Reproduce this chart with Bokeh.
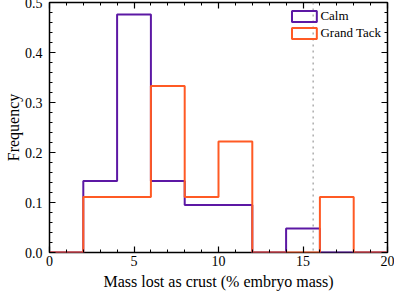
import numpy as np
from bokeh.plotting import figure
from bokeh.models import (LinearAxis, Range1d, Span, Legend, LegendItem,
                          FixedTicker, ColumnDataSource, CustomJSTickFormatter)
from bokeh.embed import file_html
from bokeh.resources import INLINE

# ---- data ----
bin_edges = [0, 2, 4, 6, 8, 10, 12, 14, 16, 18, 20]
calm_freq = [0.0, 0.143, 0.476, 0.143, 0.095, 0.095, 0.0, 0.048, 0.0, 0.0]
grand_tack_freq = [0.0, 0.111, 0.111, 0.333, 0.111, 0.222, 0.0, 0.0, 0.111, 0.0]
series_names = ["Calm", "Grand Tack"]
threshold_x = 15.6
x_ticks = [0, 5, 10, 15, 20]
y_ticks = [0.0, 0.1, 0.2, 0.3, 0.4, 0.5]

PURPLE = "#5c18a4"
ORANGE = "#ff5a24"
FONT = "Liberation Serif"


def step_outline(edges, vals):
    xs = np.repeat(np.asarray(edges, dtype=float), 2)
    ys = np.concatenate([[0.0], np.repeat(np.asarray(vals, dtype=float), 2), [0.0]])
    return xs, ys


p = figure(width=393, height=295, output_backend="svg", toolbar_location=None,
           x_range=Range1d(0, 20), y_range=Range1d(0, 0.5),
           min_border_left=48, min_border_right=7, min_border_top=5,
           min_border_bottom=10)
p.styles = {"margin-left": "1px", "margin-top": "-3px"}
p.grid.visible = False
p.outline_line_color = "black"
p.outline_line_width = 1.5
p.background_fill_color = "white"
p.border_fill_color = "white"

xc, yc = step_outline(bin_edges, calm_freq)
xg, yg = step_outline(bin_edges, grand_tack_freq)
p.line(xc, yc, line_color=PURPLE, line_width=2)
p.line(xg, yg, line_color=ORANGE, line_width=2)

p.add_layout(Span(location=threshold_x, dimension="height", line_color="#999999",
                  line_dash="dotted", line_width=1.2))

# legend proxies (single NaN row so nothing is drawn in the plot)
proxy = dict(left=np.array([np.nan]), right=np.array([np.nan]),
             top=np.array([np.nan]), bottom=np.array([np.nan]))
r1 = p.quad(left="left", right="right", top="top", bottom="bottom",
            source=ColumnDataSource(proxy),
            fill_alpha=0, line_color=PURPLE, line_width=2)
r2 = p.quad(left="left", right="right", top="top", bottom="bottom",
            source=ColumnDataSource(proxy),
            fill_alpha=0, line_color=ORANGE, line_width=2)
legend = Legend(items=[LegendItem(label=series_names[0], renderers=[r1]),
                       LegendItem(label=series_names[1], renderers=[r2])],
                location="top_right", border_line_alpha=0, background_fill_alpha=0,
                label_text_font=FONT, label_text_font_size="13px",
                label_text_color="black",
                glyph_width=31, glyph_height=14, spacing=1, padding=0,
                margin=6, label_standoff=1, label_height=14)
p.add_layout(legend)


def style_axis(ax):
    ax.axis_line_color = None
    ax.major_tick_in = 6
    ax.major_tick_out = 0
    ax.minor_tick_in = 3
    ax.minor_tick_out = 0
    ax.major_tick_line_color = "black"
    ax.minor_tick_line_color = "black"
    ax.major_tick_line_width = 1.2
    ax.major_label_text_font = FONT
    ax.major_label_text_font_size = "14px"
    ax.major_label_text_color = "black"
    ax.axis_label_text_font = FONT
    ax.axis_label_text_font_size = "16px"
    ax.axis_label_text_font_style = "normal"
    ax.axis_label_text_color = "black"


x_minor = list(range(0, 21))
y_minor = [round(i * 0.02, 2) for i in range(26)]

p.xaxis.ticker = FixedTicker(ticks=x_ticks, minor_ticks=x_minor)
p.yaxis.ticker = FixedTicker(ticks=y_ticks, minor_ticks=y_minor)
p.yaxis.formatter = CustomJSTickFormatter(code="return tick.toFixed(1)")
style_axis(p.xaxis[0])
style_axis(p.yaxis[0])
p.xaxis.axis_label = "Mass lost as crust (% embryo mass)"
p.yaxis.axis_label = "Frequency"
p.xaxis.major_label_standoff = 3
p.xaxis.axis_label_standoff = 4
p.yaxis.major_label_standoff = 7
p.yaxis.axis_label_standoff = 0

top_ax = LinearAxis(ticker=FixedTicker(ticks=x_ticks, minor_ticks=x_minor),
                    formatter=CustomJSTickFormatter(code="return ''"))
right_ax = LinearAxis(ticker=FixedTicker(ticks=y_ticks, minor_ticks=y_minor),
                      formatter=CustomJSTickFormatter(code="return ''"))
for ax in (top_ax, right_ax):
    style_axis(ax)
    ax.major_label_standoff = 0
p.add_layout(top_ax, "above")
p.add_layout(right_ax, "right")

open("out.html", "w").write(file_html(p, INLINE))
